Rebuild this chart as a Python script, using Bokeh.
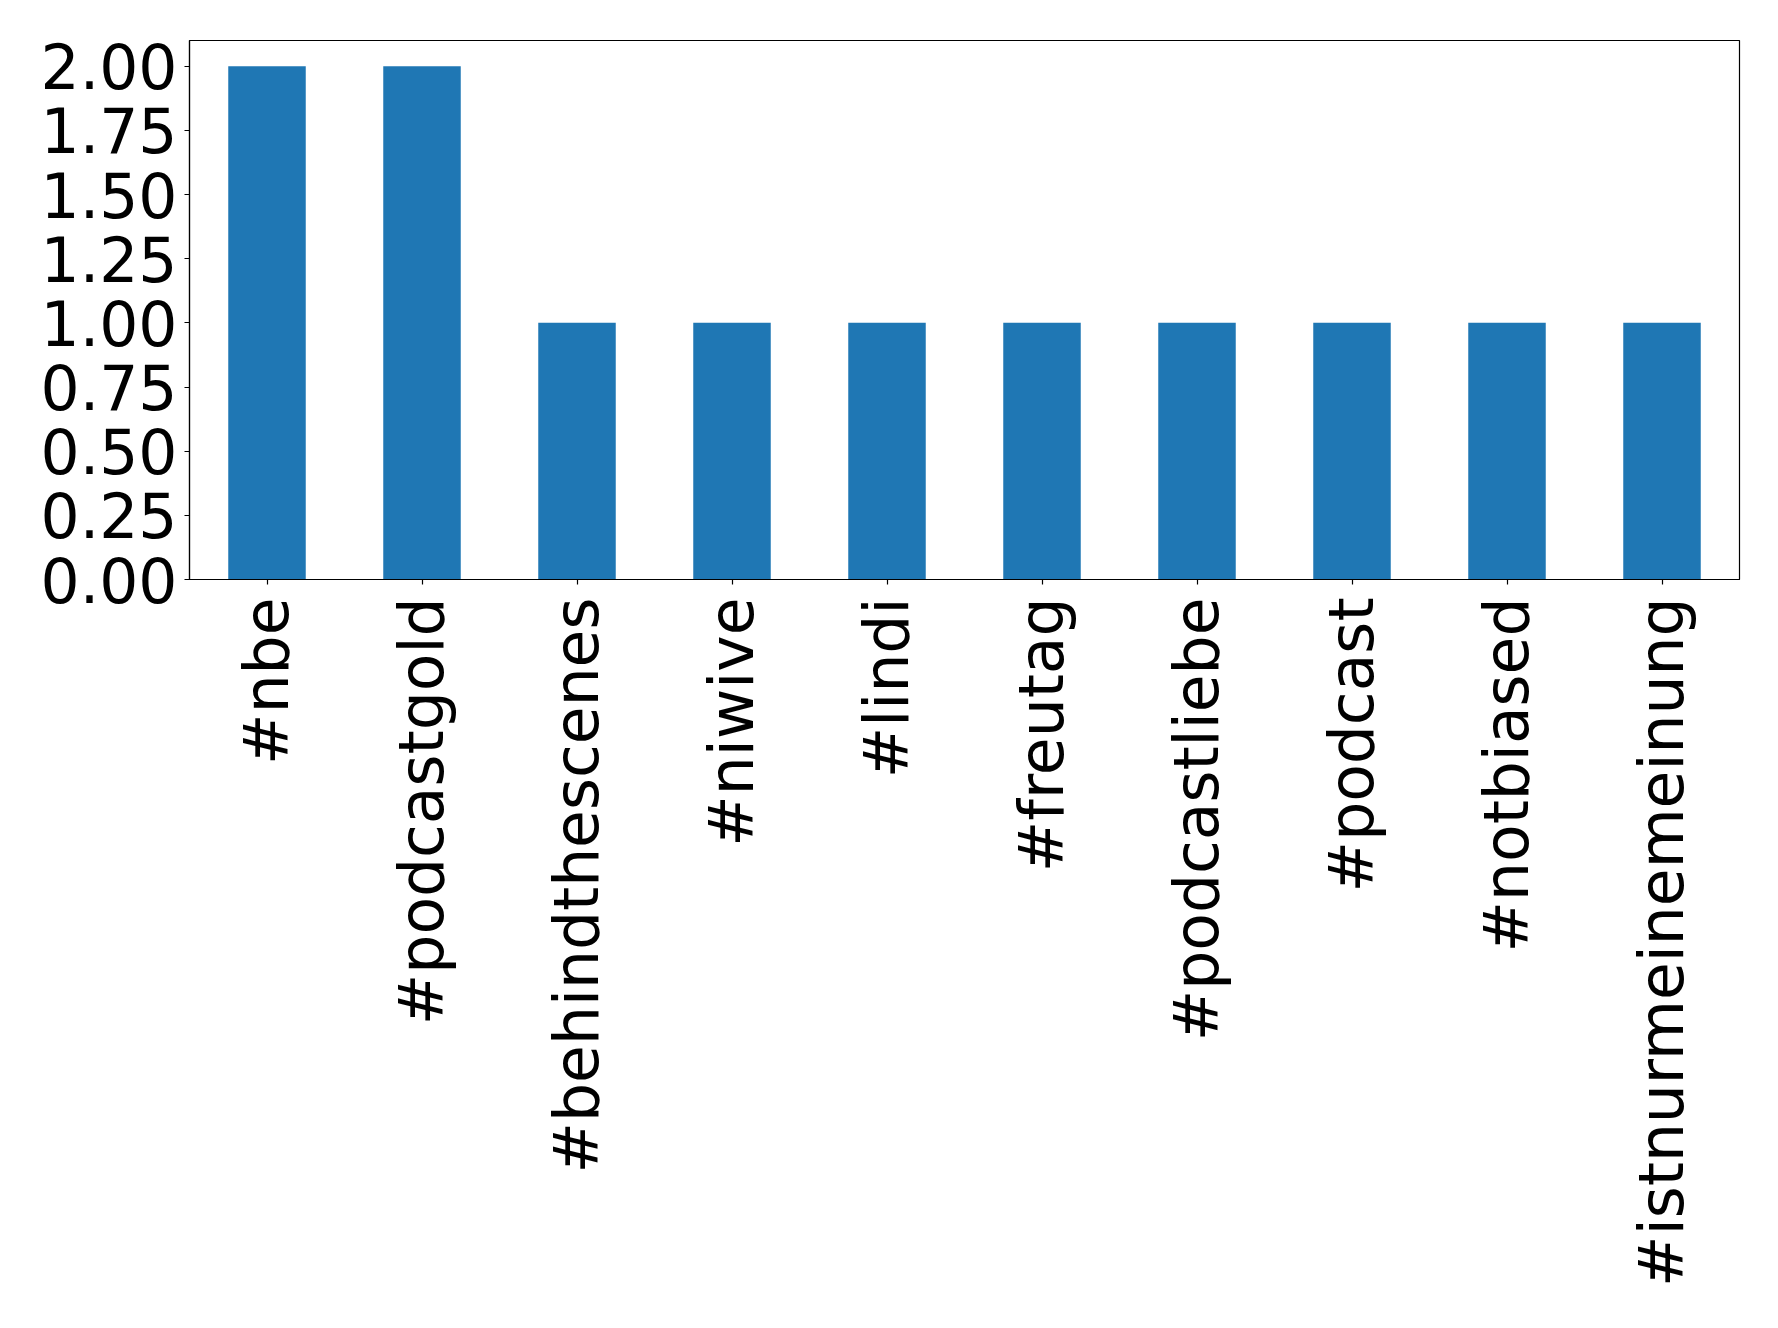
import math
from bokeh.plotting import figure
from bokeh.models import Range1d, FixedTicker, NumeralTickFormatter, FactorRange, ColumnDataSource
from bokeh.embed import file_html
from bokeh.resources import INLINE

hashtags = ["#nbe", "#podcastgold", "#behindthescenes", "#niwive", "#lindi",
            "#freutag", "#podcastliebe", "#podcast", "#notbiased", "#istnurmeinemeinung"]
counts = [2, 2, 1, 1, 1, 1, 1, 1, 1, 1]
y_ticks = [0.0, 0.25, 0.5, 0.75, 1.0, 1.25, 1.5, 1.75, 2.0]

W, H = 1762, 1312
p = figure(width=W, height=H, output_backend="svg", toolbar_location=None,
           x_range=FactorRange(factors=hashtags, range_padding=0),
           y_range=Range1d(0, 2.1))
p.min_border_left = 189
p.min_border_top = 40
p.min_border_right = 23
p.min_border_bottom = 733

src = ColumnDataSource(dict(x=hashtags, top=counts))
p.vbar(x="x", top="top", width=0.5, source=src, fill_color="#1f77b4", line_color=None)

p.xgrid.visible = False
p.ygrid.visible = False
p.outline_line_color = "black"
p.outline_line_width = 1.2
p.outline_line_alpha = 1

p.yaxis.ticker = FixedTicker(ticks=y_ticks)
p.yaxis.formatter = NumeralTickFormatter(format="0.00")
for ax in (p.xaxis, p.yaxis):
    ax.major_label_text_font = "DejaVu Sans"
    ax.major_label_text_font_size = "61.5px"
    ax.major_label_text_color = "black"
    ax.major_tick_out = 5
    ax.major_tick_in = 0
    ax.minor_tick_out = 0
    ax.minor_tick_in = 0
    ax.axis_line_color = "black"
    ax.axis_line_width = 1.2
    ax.major_tick_line_width = 1.2
p.yaxis.major_label_standoff = 7
p.xaxis.major_label_standoff = 13
p.xaxis.major_label_orientation = math.pi / 2

open("out.html", "w").write(file_html(p, INLINE))
